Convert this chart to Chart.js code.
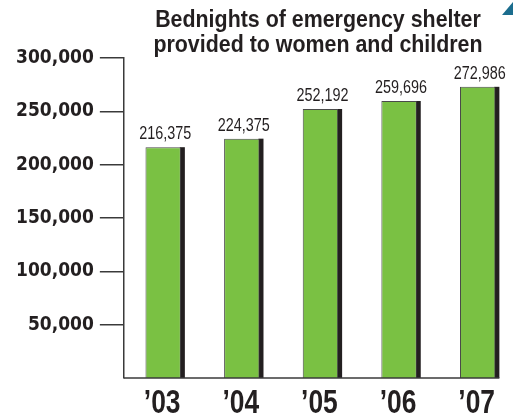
<!DOCTYPE html>
<html>
<head>
<meta charset="utf-8">
<script src="https://cdn.jsdelivr.net/npm/chart.js@4/dist/chart.umd.min.js"></script>
<style>
  html, body { margin: 0; padding: 0; background: #fff; overflow: hidden; width: 513px; height: 417px; }
  #wrap { position: relative; width: 513px; height: 417px; }
  #chart { position: absolute; left: 0; top: 0; }
  #title {
    position: absolute; left: 140px; top: 7px; width: 356px;
    text-align: center; color: #231f20; white-space: nowrap;
    font: bold 23px/24.5px "Liberation Sans", Arial, sans-serif;
    transform: scaleX(0.93); transform-origin: center top;
  }
  #corner {
    position: absolute; right: 0; top: 2px; width: 0; height: 0;
    border-left: 11px solid transparent; border-bottom: 13px solid #1b6d8e;
  }
</style>
</head>
<body>
<div id="wrap">
  <canvas id="chart" width="520" height="417"></canvas>
  <div id="title">Bednights of emergency shelter<br>provided to women and children</div>
  <div id="corner"></div>
</div>
<script>
const years   = ["\u201903", "\u201904", "\u201905", "\u201906", "\u201907"];
const nights  = [216375, 224375, 252192, 259696, 272986];
const yTicks  = [50000, 100000, 150000, 200000, 250000, 300000];

const INK    = '#231f20';
const LINE   = '#3a3a3a';
const GREEN  = '#7ac143';
const fmt    = (v) => v.toLocaleString('en-US');

// narrow text: the poster face is condensed, so squeeze Liberation Sans
function narrowText(ctx, text, x, y, font, sx) {
  ctx.save();
  ctx.font = font;
  ctx.translate(x, y);
  ctx.scale(sx, 1);
  ctx.fillText(text, 0, 0);
  ctx.restore();
}

const decorPlugin = {
  id: 'decor',
  beforeDatasetsDraw(chart) {
    const { ctx } = chart;
    const meta = chart.getDatasetMeta(0);
    ctx.save();
    ctx.fillStyle = INK;
    meta.data.forEach((bar) => {
      const right = bar.x + bar.width / 2;
      ctx.fillRect(right - 1, bar.y, 5, bar.base - bar.y);
    });
    ctx.restore();
  },
  afterDatasetsDraw(chart) {
    const { ctx, chartArea } = chart;
    const meta = chart.getDatasetMeta(0);
    const last = meta.data[meta.data.length - 1];
    const y0 = chart.scales.y.getPixelForValue(0);

    ctx.save();
    ctx.strokeStyle = LINE;
    ctx.lineWidth = 1.5;
    ctx.beginPath();
    ctx.moveTo(chartArea.left, y0);
    ctx.lineTo(last.x + last.width / 2 + 4, y0);
    ctx.stroke();

    ctx.fillStyle = INK;
    ctx.textAlign = 'center';
    ctx.textBaseline = 'alphabetic';
    meta.data.forEach((bar, i) => {
      // value over each bar
      narrowText(ctx, fmt(nights[i]), bar.x + 2, bar.y - 8,
        '18px "Liberation Sans", Arial, sans-serif', 0.8);
      // year under each bar, at the category position
      const xc = chart.scales.x.getPixelForValue(i);
      narrowText(ctx, years[i], xc - 1, 413,
        'bold 33px "Liberation Sans", Arial, sans-serif', 0.8);
    });
    ctx.restore();
  },
};

new Chart(document.getElementById('chart'), {
  type: 'bar',
  data: {
    labels: years,
    datasets: [{
      data: nights,
      backgroundColor: GREEN,
      borderColor: '#4a4a4a',
      borderWidth: 1,
      barPercentage: 0.45,
      categoryPercentage: 1,
    }],
  },
  options: {
    responsive: false,
    animation: false,
    devicePixelRatio: 1,
    layout: { padding: { left: 10, top: 58, right: 3, bottom: 0 } },
    plugins: { legend: { display: false }, tooltip: { enabled: false } },
    scales: {
      x: {
        grid: { display: false, drawTicks: false },
        border: { display: false },
        ticks: { display: false },
        afterFit: (axis) => { axis.height = 39; },
      },
      y: {
        min: 0, max: 300000,
        afterBuildTicks: (axis) => { axis.ticks = yTicks.map((v) => ({ value: v })); },
        grid: { drawOnChartArea: false, drawTicks: true, tickLength: 24, color: LINE, lineWidth: 1.5 },
        border: { display: true, color: LINE, width: 1.5 },
        ticks: {
          color: INK, padding: 6,
          callback: (v) => fmt(v),
          font: { family: '"DejaVu Sans Condensed", sans-serif', size: 19, weight: 'bold' },
        },
      },
    },
  },
  plugins: [decorPlugin],
});
</script>
</body>
</html>
